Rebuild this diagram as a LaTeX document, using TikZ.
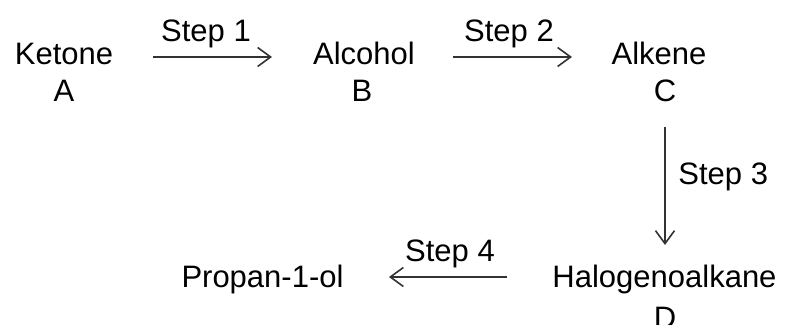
\documentclass[tikz,border=0pt]{standalone}
\usepackage{fontspec}
\setmainfont{Liberation Sans}
\usetikzlibrary{arrows.meta,calc}
\begin{document}
\begin{tikzpicture}[x=0.5pt,y=-0.5pt,
  lbl/.style={inner sep=0pt,anchor=base,font=\fontsize{15.5pt}{18.5pt}\selectfont},
  arr/.style={draw=black!80,line width=0.8pt,-{Straight Barb[length=6.5pt,width=9.5pt,line width=0.8pt]}}]
\useasboundingbox (0,0) rectangle (788,325);
\node[lbl] (ketone) at (64,65) {Ketone};
\node[lbl] (A) at (64,102) {A};
\node[lbl] (alcohol) at (364,65) {Alcohol};
\node[lbl] (B) at (362,102) {B};
\node[lbl] (alkene) at (659,65) {Alkene};
\node[lbl] (C) at (665,102) {C};
\node[lbl] (halo) at (664.5,288) {Halogenoalkane};
\node[lbl] (D) at (665,329) {D};
\node[lbl] (prop) at (262.5,288) {Propan-1-ol};
\node[lbl] (s1) at (206,42) {Step 1};
\node[lbl] (s2) at (509,42) {Step 2};
\node[lbl,anchor=base west] (s3) at (678,185) {Step 3};
\node[lbl] (s4) at (450,262) {Step 4};
\draw[arr] ($(ketone.base)+(89,-8)$) -- ($(alcohol.base)+(-92,-8)$);
\draw[arr] ($(alcohol.base)+(89,-8)$) -- ($(alkene.base)+(-87,-8)$);
\draw[arr] ($(C.base)+(0,25)$) -- ($(C.base |- halo.base)+(0,-43)$);
\draw[arr] ($(halo.base)+(-157.5,-11)$) -- ($(prop.base)+(126.5,-11)$);
\end{tikzpicture}
\end{document}
